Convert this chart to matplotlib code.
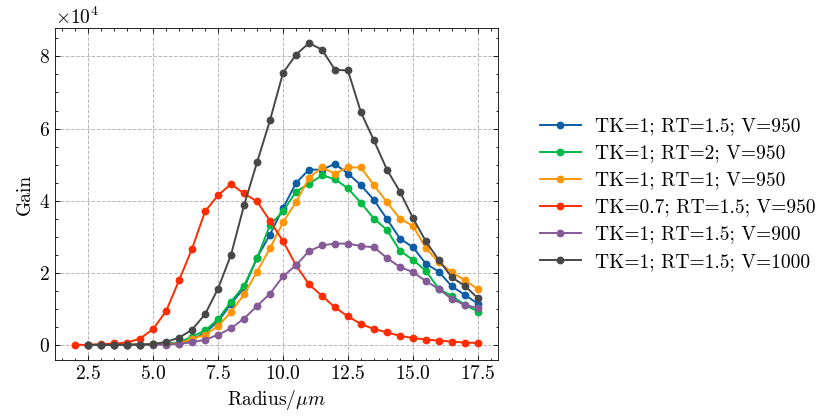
import numpy as np
import matplotlib
matplotlib.use("Agg")
import matplotlib.pyplot as plt
from matplotlib.ticker import AutoMinorLocator

# radius grid (um)
radius = [2.0, 2.5, 3.0, 3.5, 4.0, 4.5, 5.0, 5.5, 6.0, 6.5, 7.0, 7.5, 8.0, 8.5,
          9.0, 9.5, 10.0, 10.5, 11.0, 11.5, 12.0, 12.5, 13.0, 13.5, 14.0, 14.5,
          15.0, 15.5, 16.0, 16.5, 17.0, 17.5]

# gain vs radius for each configuration
gain_tk1_rt15_v950 = [0, 0, 0, 0, 50, 100, 200, 400, 460, 1400, 3400, 6500, 11400,
                      15800, 24200, 30600, 37900, 44900, 48600, 48600, 50200, 47500,
                      44300, 40200, 34900, 29500, 27100, 22500, 20300, 16200, 13900, 11400]
gain_tk1_rt2_v950 = [0, 0, 0, 0, 50, 100, 200, 450, 650, 2300, 4000, 7100, 12000,
                     16400, 24000, 33300, 37000, 42500, 44700, 47000, 46000, 43400,
                     39400, 35000, 31900, 26100, 23600, 20500, 15500, 13600, 11100, 9250]
gain_tk1_rt1_v950 = [0, 0, 0, 0, 50, 80, 150, 300, 370, 1650, 2800, 5200, 9150,
                     14000, 20300, 26800, 34000, 39600, 46300, 49200, 47500, 49200,
                     49200, 44300, 39600, 35000, 33000, 26800, 22900, 20200, 17900, 15500]
gain_tk07_rt15_v950 = [0, 50, 200, 400, 650, 1750, 4400, 9350, 17900, 26700, 37000,
                       41500, 44600, 42000, 39800, 34400, 28800, 22100, 16800, 13600,
                       10400, 7900, 5800, 4400, 3500, 2500, 1900, 1500, 1200, 900, 650, 550]
gain_tk1_rt15_v900 = [0, 0, 0, 0, 30, 50, 80, 100, 280, 740, 1400, 2800, 4600,
                      7300, 10800, 14200, 19000, 22100, 26000, 27600, 28100, 28100,
                      27400, 27100, 24100, 21600, 20200, 17700, 15500, 12700, 11100, 10200]
gain_tk1_rt15_v1000 = [0, 0, 0, 0, 50, 100, 200, 830, 2000, 4200, 8500, 15600, 25000,
                       38700, 50600, 62300, 75400, 80500, 83700, 81900, 76300, 76100,
                       64500, 56700, 48600, 42500, 35200, 28700, 23500, 18700, 16400, 12950]

labels = ["TK=1; RT=1.5; V=950", "TK=1; RT=2; V=950", "TK=1; RT=1; V=950",
          "TK=0.7; RT=1.5; V=950", "TK=1; RT=1.5; V=900", "TK=1; RT=1.5; V=1000"]
colors = ["#0C5DA5", "#00B945", "#FF9500", "#FF2C00", "#845B97", "#474747"]

plt.rcParams.update({
    "font.family": "serif",
    "font.serif": ["cmr10", "DejaVu Serif"],
    "mathtext.fontset": "cm",
    "axes.formatter.use_mathtext": True,
    "font.size": 14,
    "axes.linewidth": 0.6,
    "xtick.direction": "in",
    "ytick.direction": "in",
    "xtick.top": True,
    "ytick.right": True,
    "xtick.major.size": 3.5,
    "ytick.major.size": 3.5,
    "xtick.minor.size": 1.8,
    "ytick.minor.size": 1.8,
    "xtick.major.width": 0.6,
    "ytick.major.width": 0.6,
    "xtick.minor.width": 0.6,
    "ytick.minor.width": 0.6,
})

fig = plt.figure(figsize=(8.23, 4.17), dpi=100)
ax = fig.add_axes([55 / 823, 1 - 360 / 417, 443 / 823, 332 / 417])

series = [gain_tk1_rt15_v950, gain_tk1_rt2_v950, gain_tk1_rt1_v950,
          gain_tk07_rt15_v950, gain_tk1_rt15_v900, gain_tk1_rt15_v1000]
for g, lab, c in zip(series, labels, colors):
    # only the low-TK run was measured from 2.0
    start = 0 if lab.startswith("TK=0.7") else 1
    ax.plot(radius[start:], g[start:], "-o", color=c, lw=1.4, ms=4.6, label=lab)

ax.set_xlim(1.225, 18.275)
ax.set_ylim(-4185, 87885)
ax.set_xticks([2.5, 5.0, 7.5, 10.0, 12.5, 15.0, 17.5])
ax.set_yticks([0, 20000, 40000, 60000, 80000])
ax.xaxis.set_minor_locator(AutoMinorLocator(5))
ax.yaxis.set_minor_locator(AutoMinorLocator(4))
ax.ticklabel_format(axis="y", style="sci", scilimits=(0, 0))
ax.grid(True, which="major", linestyle="--", color="#b8b8b8", linewidth=0.7)
ax.set_axisbelow(True)

ax.set_xlabel(r"Radius/$\mu m$")
ax.set_ylabel("Gain")

ax.legend(loc="center left", bbox_to_anchor=(1.055, 0.5), frameon=False,
          handlelength=2.1, handletextpad=0.75, labelspacing=0.47, fontsize=14)

fig.savefig("out.png", dpi=100)
